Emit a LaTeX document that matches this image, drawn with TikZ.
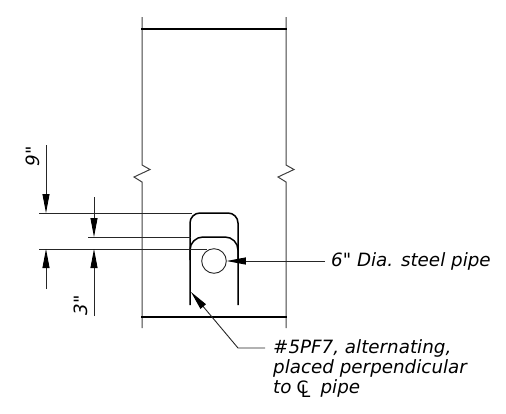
\documentclass[tikz,border=0pt]{standalone}
\usepackage{fontspec}
\newfontfamily\labelfont{DejaVu Sans}
\usetikzlibrary{arrows.meta,positioning}
\newcommand{\clmark}{\makebox[24pt][l]{\upshape\fontsize{17pt}{17pt}\selectfont C\hspace{-7.5pt}\raisebox{-4pt}{L}}}
\begin{document}
\begin{tikzpicture}[
    x=1pt, y=-1pt,
    wall/.style={draw=black!75, line width=1pt},
    slab/.style={draw=black, line width=2.8pt},
    bar/.style={draw=black, line width=1.5pt, rounded corners=10pt},
    extline/.style={draw=black!85, line width=0.9pt},
    arrow/.style={draw=black!85, line width=0.9pt,-{Triangle[length=19pt,width=7pt,color=black]}},
    callout/.style={font=\labelfont\itshape\fontsize{18.3pt}{20pt}\selectfont, align=left, inner sep=0pt, anchor=base west},
    dimlabel/.style={font=\labelfont\itshape\fontsize{18.3pt}{20pt}\selectfont, rotate=90, inner sep=0pt}
]
    \useasboundingbox (0,0) rectangle (506,413);

    % Walls with break marks
    \draw [wall] (142,17) -- (142,165) -- (150,169.5) -- (134,177) -- (142,182) -- (142,328);
    \draw [wall] (286,17) -- (286,165) -- (294,169.5) -- (278,177) -- (286,182) -- (286,328);

    % Slabs
    \draw [slab] (141,29) -- (287,29);
    \draw [slab] (141,317) -- (287,317);

    % Bent bars
    \draw [bar] (190,305) -- (190,213) -- (238,213) -- (238,305);
    \draw [bar, rounded corners=13pt] (190,260) -- (190,237) -- (238,237) -- (238,260);

    % Pipe
    \node [circle, draw=black!85, line width=0.9pt, minimum size=24.6pt, inner sep=0pt] (pipe) at (214,261) {};

    % Extension lines
    \coordinate (top) at (46,213);
    \coordinate (mid) at (94,237);
    \coordinate (low) at (46,249);
    \coordinate (lowb) at (94,249);
    \draw [extline] (39,213) -- (192,213);
    \draw [extline] (88,237) -- (191,237);
    \draw [extline] (39,249) -- (207,249);

    % Dimension arrows
    \coordinate (d1a) at (46,145);
    \coordinate (d1b) at (46,289);
    \coordinate (d2a) at (94,197);
    \coordinate (d2b) at (94,316);
    \draw [arrow] (d1a) -- (top);
    \draw [arrow] (d1b) -- (low);
    \draw [arrow] (d2a) -- (mid);
    \draw [arrow] (d2b) -- (lowb);

    % Dimension labels
    \node [dimlabel] (nine) at (33,156) {9"};
    \node [dimlabel] (three) at (81,305) {3"};

    % Callouts
    \node [callout] (pipelabel) at (331,266) {6" Dia. steel pipe};
    \node [callout] (barlabel) at (273,393) {\#5PF7, alternating,\\placed perpendicular\\to\hspace{5pt}\clmark pipe};

    % Leaders
    \coordinate (pipeend) at (325,261);
    \coordinate (barend) at (265,348);
    \coordinate (barknee) at (238,348);
    \coordinate (bartip) at (191,292);
    \draw [arrow] (pipeend) -- (pipe.east);
    \draw [arrow] (barend) -- (barknee) -- (bartip);
\end{tikzpicture}
\end{document}
